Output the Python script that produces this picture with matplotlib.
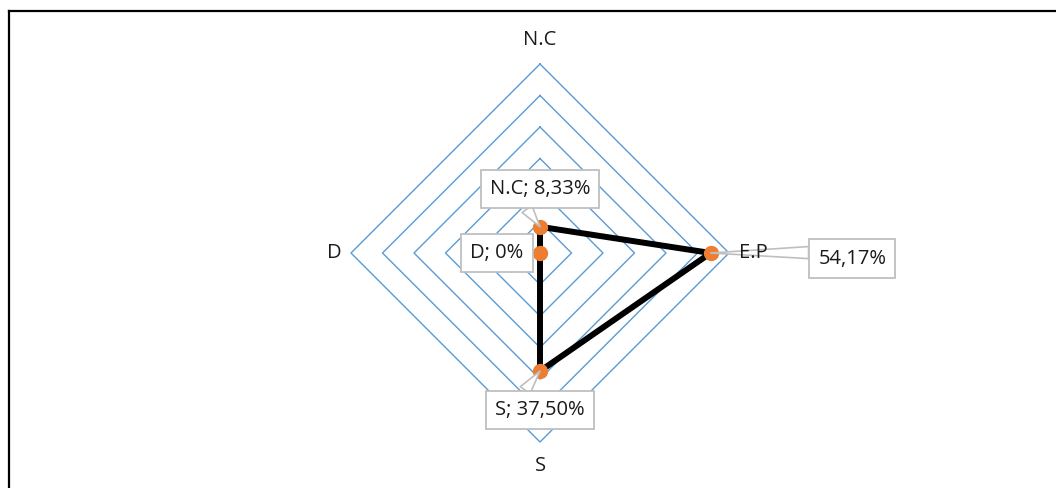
import numpy as np
import matplotlib.pyplot as plt
from matplotlib.lines import Line2D

categories = ["N.C", "E.P", "S", "D"]
values = [8.33, 54.17, 37.50, 0.0]
value_labels = ["N.C; 8,33%", "54,17%", "S; 37,50%", "D; 0%"]
ring_levels = [10, 20, 30, 40, 50, 60]

# label box offsets (points) from each data point
label_offsets = [(0, 27), (102, -4), (0, -28), (-31, 0)]
label_relpos = [(0.3, 0.0), (0.0, 0.8), (0.25, 1.0), (1.0, 0.5)]

GRID = "#5B9BD5"
ORANGE = "#ED7D31"
BOXEDGE = "#BFBFBF"

plt.rcParams["font.family"] = ["Open Sans", "DejaVu Sans"]


def to_xy(r, i, n):
    # clockwise from top
    theta = np.pi / 2 - i * 2 * np.pi / n
    return r * np.cos(theta), r * np.sin(theta)


def draw_radar():
    n = len(categories)
    fig = plt.figure(figsize=(10.56, 4.88), dpi=100)
    ax = fig.add_axes([0, 0, 1, 1])
    ax.set_aspect("equal")
    scale = 60 / 189.0
    ax.set_xlim(-540 * scale, (1056 - 540) * scale)
    ax.set_ylim(-235 * scale, 253 * scale)
    ax.axis("off")

    # diamond gridlines
    for lvl in ring_levels:
        pts = [to_xy(lvl, i, n) for i in range(n + 1)]
        ax.plot([p[0] for p in pts], [p[1] for p in pts], color=GRID, lw=1.0, zorder=1)

    # category labels
    rmax = ring_levels[-1]
    cat_off = [(0, 17), (7, 0), (0, -17), (-7, 0)]
    cat_ha = ["center", "left", "center", "right"]
    for i, cat in enumerate(categories):
        x, y = to_xy(rmax, i, n)
        ax.annotate(cat, (x, y), xytext=cat_off[i], textcoords="offset points",
                    ha=cat_ha[i], va="center", fontsize=14.5, color="#1a1a1a", zorder=7)

    # series
    pts = [to_xy(v, i, n) for i, v in enumerate(values)]
    xs = [p[0] for p in pts] + [pts[0][0]]
    ys = [p[1] for p in pts] + [pts[0][1]]
    ax.plot(xs, ys, color="black", lw=4.3, zorder=3, solid_joinstyle="miter")
    ax.plot(xs[:-1], ys[:-1], ls="none", marker="o", ms=10, color=ORANGE,
            markeredgecolor=ORANGE, zorder=4)

    # data labels in callout boxes
    for i, lab in enumerate(value_labels):
        x, y = pts[i]
        arrow = None
        if i != 3:
            arrow = dict(arrowstyle="wedge,tail_width=0.6,shrink_factor=0.5", fc="white",
                         ec=BOXEDGE, lw=1.2, shrinkA=0, shrinkB=0,
                         relpos=label_relpos[i])
        ax.annotate(lab, (x, y), xytext=label_offsets[i], textcoords="offset points",
                    ha="center", va="center", fontsize=14.5, color="#1a1a1a", zorder=5,
                    bbox=dict(boxstyle="square,pad=0.45", fc="white", ec=BOXEDGE, lw=1.3),
                    arrowprops=arrow)

    # outer frame (top and left edges)
    fx = 9 / 1056
    fy = 1 - 11 / 488
    fig.add_artist(Line2D([fx, 1], [fy, fy], color="black", lw=1.6))
    fig.add_artist(Line2D([fx, fx], [0, fy], color="black", lw=1.6))

    fig.savefig("out.png", dpi=100)


if __name__ == "__main__":
    draw_radar()
